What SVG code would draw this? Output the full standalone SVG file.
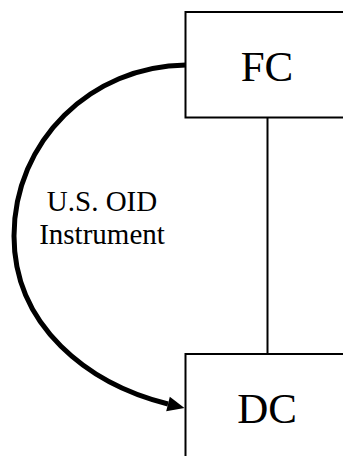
<svg xmlns="http://www.w3.org/2000/svg" width="343" height="456" viewBox="0 0 343 456">
<style>
.box{fill:#fff;stroke:#000;stroke-width:2}
.big{font-family:"Liberation Serif","Times New Roman",serif;font-size:43px;fill:#000;text-anchor:middle}
.lbl{font-family:"Liberation Serif","Times New Roman",serif;font-size:29px;fill:#000;text-anchor:middle}
.curve{fill:none;stroke:#000;stroke-width:5}
.line{fill:none;stroke:#000;stroke-width:2}
</style>
<defs>
<marker id="arrow" markerUnits="userSpaceOnUse" markerWidth="18" markerHeight="16" refX="0" refY="7.5" orient="auto" overflow="visible">
<path d="M0,0 L17,7.5 L0,15 z" fill="#000"/>
</marker>
</defs>
<rect width="343" height="456" fill="#fff"/>
<g id="connectors">
<line class="line" x1="267.5" y1="117.5" x2="267.5" y2="354"/>
<path class="curve" d="M186,65 C91,66 14,141 14,236 C14,326 88,384 168,404" marker-end="url(#arrow)"/>
<text class="lbl" x="102" y="211">U.S. OID</text>
<text class="lbl" x="102" y="244">Instrument</text>
</g>
<g id="FC">
<rect class="box" x="185.5" y="12" width="200" height="105.5"/>
<text class="big" x="267" y="81">FC</text>
</g>
<g id="DC">
<rect class="box" x="185.5" y="354" width="200" height="150"/>
<text class="big" x="267" y="423">DC</text>
</g>
</svg>
